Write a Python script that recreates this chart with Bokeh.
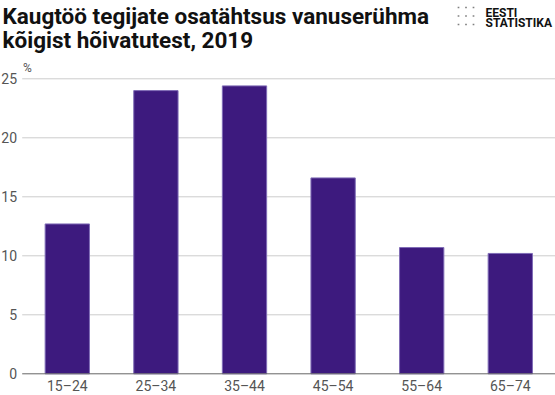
from bokeh.plotting import figure
from bokeh.models import Range1d
from bokeh.core.properties import value
from bokeh.embed import file_html
from bokeh.resources import INLINE

# ---- data ----
age_groups = ["15–24", "25–34", "35–44", "45–54", "55–64", "65–74"]
share = [12.7, 24.0, 24.4, 16.6, 10.7, 10.2]
y_ticks = [0, 5, 10, 15, 20, 25]

title_lines = ["Kaugtöö tegijate osatähtsus vanuserühma", "kõigist hõivatutest, 2019"]
unit_label = "%"
logo_lines = ["EESTI", "STATISTIKA"]

BAR = "#3d1a7e"
BAR_LINE = "#7f6cb6"
FONT = "Roboto"
W, H = 555, 395

# ---- layout: the frame covers the whole canvas; helpers map page pixels to data ----
X0, XPX = 66.8, 88.6     # page x of the first category centre, pixels per category
Y0, YPX = 373.3, 11.8    # page y of value 0, pixels per unit


def dx(px):
    return (px - X0) / XPX


def dy(py):
    return (Y0 - py) / YPX


idx = list(range(len(age_groups)))

p = figure(width=W, height=H,
           x_range=Range1d(dx(0), dx(W)), y_range=Range1d(dy(H), dy(0)),
           x_axis_location=None, y_axis_location=None,
           output_backend="svg", toolbar_location=None,
           min_border_left=0, min_border_right=0, min_border_top=0, min_border_bottom=0)
p.outline_line_color = None
p.grid.visible = False

# gridlines
grid_vals = [t for t in y_ticks if t > 0]
p.segment(x0=[dx(21.7)] * len(grid_vals), x1=[dx(W)] * len(grid_vals),
          y0=grid_vals, y1=grid_vals, line_color="#cccccc", line_width=1)

# bars
p.vbar(x=idx, top=share, width=0.5, fill_color=BAR, line_color=BAR_LINE, line_width=1)

# x axis line
p.segment(x0=[dx(21.7)], x1=[dx(W)], y0=[0], y1=[0], line_color="#666666", line_width=1)

# tick labels
p.text(x=[dx(16.5)] * len(y_ticks), y=y_ticks, text=[str(t) for t in y_ticks],
       text_font=value(FONT), text_font_size="14px", text_color="#555555",
       text_align="right", text_baseline="middle")
p.text(x=idx, y=[dy(377)] * len(idx), text=age_groups,
       text_font=value(FONT), text_font_size="14px", text_color="#555555",
       text_align="center", text_baseline="top")

# title
p.text(x=[dx(2), dx(2)], y=[dy(15.5), dy(39)], text=title_lines,
       text_font=value(FONT), text_font_size="22.5px", text_font_style="bold",
       text_color="#111111", text_align="left", text_baseline="alphabetic")

# unit
p.text(x=[dx(22.5)], y=[dy(67.5)], text=[unit_label],
       text_font=value(FONT), text_font_size="12px", text_color="#555555",
       text_align="left", text_baseline="alphabetic")

# logo
p.text(x=[dx(485), dx(485)], y=[dy(12), dy(22.5)], text=logo_lines,
       text_font=value(FONT), text_font_size="12px", text_font_style="bold",
       text_color="#111111", text_align="left", text_baseline="alphabetic")
dot_cols = [458, 465.5, 473]
dot_rows = [7, 15.5, 24]
p.scatter(x=[dx(c) for c in dot_cols for r in dot_rows],
          y=[dy(r) for c in dot_cols for r in dot_rows],
          marker="square", size=1.7, color="#808080", line_color=None)

open("out.html", "w").write(file_html(p, INLINE))
